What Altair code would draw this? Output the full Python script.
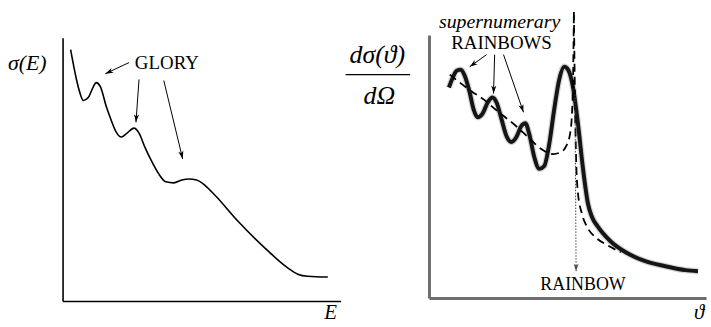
import math
import altair as alt
import pandas as pd

FONT = "Liberation Serif"

# ---- left panel: total cross-section sigma(E) with glory undulations ----
E_vals = [0.29, 0.50, 0.61, 0.75, 0.93, 1.11, 1.21, 1.36, 1.57, 1.75, 1.93, 2.11,
          2.32, 2.57, 2.75, 2.96, 3.18, 3.46, 3.71, 4.00, 4.29, 4.54, 4.82, 5.14,
          5.50, 6.32, 7.29, 8.11, 8.46, 8.82, 9.54]
sigma_vals = [9.55, 8.42, 7.96, 7.62, 7.74, 8.15, 8.30, 8.15, 7.40, 6.87, 6.42, 6.23,
              6.38, 6.57, 6.38, 5.85, 5.36, 4.83, 4.53, 4.49, 4.60, 4.64, 4.60, 4.38,
              4.00, 3.02, 2.00, 1.25, 1.02, 0.94, 0.91]

# glory arrows: tail (x0, y0) -> head (x1, y1), in (E, sigma) units
glory_x0 = [2.39, 2.75, 3.64]
glory_y0 = [9.06, 8.42, 8.38]
glory_x1 = [1.54, 2.64, 4.32]
glory_y1 = [8.64, 6.79, 5.40]
glory_label = ["GLORY"]
glory_label_x = [3.75]
glory_label_y = [9.06]

# ---- right panel: differential cross-section vs scattering angle ----
theta_wave = [0.72, 0.86, 1.00, 1.15, 1.29, 1.47, 1.61, 1.76, 1.94, 2.12, 2.29, 2.44,
              2.62, 2.80, 2.98, 3.15, 3.33, 3.48, 3.62, 3.80, 3.98, 4.16, 4.34, 4.52,
              4.70, 4.88, 5.02, 5.20, 5.38, 5.56, 5.74, 5.88, 6.09, 6.56, 7.10, 7.81,
              8.53, 9.25, 9.71]
dsig_wave = [8.00, 8.38, 8.64, 8.68, 8.45, 7.81, 7.17, 6.87, 7.02, 7.43, 7.62, 7.43,
             6.79, 6.15, 5.93, 6.11, 6.53, 6.64, 6.23, 5.36, 4.91, 5.02, 5.85, 7.17,
             8.30, 8.79, 8.68, 8.00, 6.60, 4.91, 3.58, 3.09, 2.72, 2.15, 1.74, 1.40,
             1.21, 1.06, 1.02]

# classical cross-section: lit side and shadow side of the rainbow angle
theta_lit = [0.75, 1.11, 1.54, 1.97, 2.44, 3.15, 3.69, 4.05, 4.48, 4.77, 4.95, 5.09,
             5.16, 5.20, 5.23]
dsig_lit = [8.49, 8.19, 7.85, 7.55, 7.13, 6.53, 6.00, 5.66, 5.47, 5.55, 5.77, 6.23,
            6.98, 8.30, 10.87]
theta_dark = [5.23, 5.27, 5.31, 5.38, 5.52, 5.74, 6.02, 6.45, 6.92]
dsig_dark = [10.87, 7.55, 5.28, 3.96, 3.21, 2.64, 2.30, 2.00, 1.74]

# supernumerary arrows, in (theta, dsigma) units
super_x0 = [2.08, 2.37, 2.69]
super_y0 = [9.25, 9.25, 9.25]
super_x1 = [1.47, 2.33, 3.41]
super_y1 = [8.79, 7.77, 7.06]
super_labels = ["supernumerary", "RAINBOWS"]
super_label_x = [2.55, 2.62]
super_label_y = [10.49, 9.70]

rainbow_x0 = [5.27]
rainbow_y0 = [7.74]
rainbow_x1 = [5.31]
rainbow_y1 = [1.02]
rainbow_label = ["RAINBOW"]
rainbow_label_x = [5.56]
rainbow_label_y = [0.49]

L_W, R_W, H = 280, 279, 265
R_LIFT = 3  # right-hand frame sits a little higher than the left one
DOMAIN = [0, 10]
ARROW_PATH = "M0,0 L-2,-0.65 L-1.45,0 L-2,0.65 Z"


def axis(color, width, offset=0):
    return alt.Axis(domain=True, domainColor=color, domainWidth=width, ticks=False,
                    labels=False, grid=False, title=None, offset=offset)


def enc_x(field, ax):
    return alt.X(f"{field}:Q", scale=alt.Scale(domain=DOMAIN, nice=False, zero=False),
                 axis=ax)


def enc_y(field, ax, lift=0):
    sc = alt.Scale(domain=DOMAIN, nice=False, zero=False)
    if lift:
        sc = alt.Scale(domain=DOMAIN, nice=False, zero=False, range=[H - lift, -lift])
    return alt.Y(f"{field}:Q", scale=sc, axis=ax)


def arrows(x0, y0, x1, y1, w, axx, axy, lift=0, color="black", dash=None, size=64,
           sw=1.0):
    sx, sy = w / 10.0, H / 10.0
    ang = [math.degrees(math.atan2(-(b1 - b0) * sy, (a1 - a0) * sx)) % 360
           for a0, b0, a1, b1 in zip(x0, y0, x1, y1)]
    df = pd.DataFrame({"x0": x0, "y0": y0, "x1": x1, "y1": y1, "ang": ang})
    base = alt.Chart(df)
    rule_kw = dict(color=color, strokeWidth=sw, clip=False)
    if dash:
        rule_kw["strokeDash"] = dash
    shaft = base.mark_rule(**rule_kw).encode(
        x=enc_x("x0", axx), y=enc_y("y0", axy, lift), x2="x1:Q", y2="y1:Q")
    head = base.mark_point(shape=ARROW_PATH, filled=True, size=size, color=color,
                           opacity=1, strokeWidth=0, clip=False).encode(
        x=enc_x("x1", axx), y=enc_y("y1", axy, lift),
        angle=alt.Angle("ang:Q", scale=None))
    return shaft + head


def label_text(text, x, y, axx, axy, lift=0, size=19, style="normal"):
    df = pd.DataFrame({"t": text, "x": x, "y": y})
    return alt.Chart(df).mark_text(font=FONT, fontSize=size, fontStyle=style,
                                   align="center", baseline="middle", color="black",
                                   clip=False).encode(
        x=enc_x("x", axx), y=enc_y("y", axy, lift), text="t:N")


def fixed_text(text, px, py, size, style="italic", align="center"):
    return alt.Chart(pd.DataFrame({"t": [text]})).mark_text(
        font=FONT, fontSize=size, fontStyle=style, align=align, baseline="middle",
        color="black").encode(x=alt.value(px), y=alt.value(py), text="t:N")


# ---------------- left panel ----------------
ax_l = axis("black", 1.6)
curve_l = alt.Chart(pd.DataFrame({"E": E_vals, "s": sigma_vals})).mark_line(
    color="black", strokeWidth=1.6, interpolate="monotone", clip=False).encode(
    x=enc_x("E", ax_l), y=enc_y("s", ax_l))

left = alt.layer(
    curve_l,
    arrows(glory_x0, glory_y0, glory_x1, glory_y1, L_W, ax_l, ax_l),
    label_text(glory_label, glory_label_x, glory_label_y, ax_l, ax_l, size=19),
    fixed_text("σ(E)", -55, 25, 22, align="left"),
    fixed_text("E", 270, 277, 21),
).properties(width=L_W, height=H)

# ---------------- right panel ----------------
ax_rx = axis("#6e6e6e", 3, offset=-R_LIFT)
ax_ry = axis("#6e6e6e", 3)
wave_df = pd.DataFrame({"t": theta_wave, "d": dsig_wave})
halo = alt.Chart(wave_df).mark_line(color="#777777", strokeWidth=6.5, opacity=0.3,
                                    interpolate="monotone", clip=False).encode(
    x=enc_x("t", ax_rx), y=enc_y("d", ax_ry, R_LIFT))
wave = alt.Chart(wave_df).mark_line(color="#151515", strokeWidth=4,
                                    interpolate="monotone", clip=False).encode(
    x=enc_x("t", ax_rx), y=enc_y("d", ax_ry, R_LIFT))

classical_df = pd.DataFrame({
    "t": theta_lit + theta_dark,
    "d": dsig_lit + dsig_dark,
    "branch": ["lit"] * len(theta_lit) + ["dark"] * len(theta_dark),
})
classical = alt.Chart(classical_df).mark_line(
    color="black", strokeWidth=1.8, strokeDash=[8, 5], interpolate="monotone",
    clip=False).encode(x=enc_x("t", ax_rx), y=enc_y("d", ax_ry, R_LIFT),
                       detail="branch:N")

frac_bar = alt.Chart(pd.DataFrame({"a": [0]})).mark_rule(
    color="black", strokeWidth=1.3).encode(
    x=alt.value(-84), x2=alt.value(-19), y=alt.value(37))

right = alt.layer(
    halo, wave, classical,
    arrows(super_x0, super_y0, super_x1, super_y1, R_W, ax_rx, ax_ry, R_LIFT),
    arrows(rainbow_x0, rainbow_y0, rainbow_x1, rainbow_y1, R_W, ax_rx, ax_ry, R_LIFT,
           color="#444444", dash=[1.5, 1.5], size=56, sw=1.0),
    label_text(super_labels[:1], super_label_x[:1], super_label_y[:1], ax_rx, ax_ry,
               R_LIFT, size=20, style="italic"),
    label_text(super_labels[1:], super_label_x[1:], super_label_y[1:], ax_rx, ax_ry,
               R_LIFT, size=19),
    label_text(rainbow_label, rainbow_label_x, rainbow_label_y, ax_rx, ax_ry, R_LIFT,
               size=18),
    fixed_text("dσ(ϑ)", -52, 17, 26),
    frac_bar,
    fixed_text("dΩ", -50, 59, 26),
    fixed_text("ϑ", 272, 277, 21),
).properties(width=R_W, height=H)

chart = alt.hconcat(left, right, spacing=89, bounds="flush").properties(
    padding={"left": 8, "top": 7, "right": 0, "bottom": 0},
    background="white",
).configure_view(stroke=None)

chart.save("out.html", embed_options={"renderer": "svg", "actions": False})
